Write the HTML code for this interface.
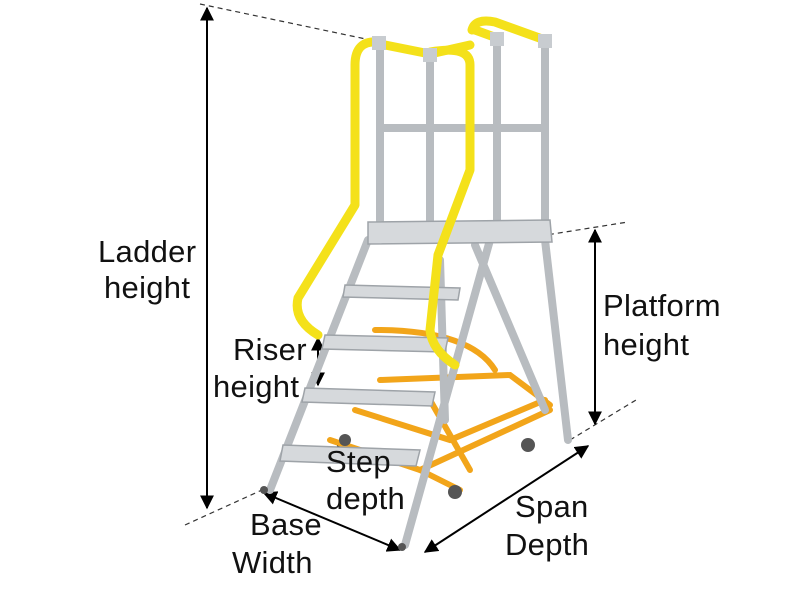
<!DOCTYPE html>
<html><head><meta charset="utf-8"><style>
html,body{margin:0;padding:0;background:#fff;}
svg{display:block;}
text{font-family:"Liberation Sans",sans-serif;font-size:31px;fill:#111;letter-spacing:0.3px;}
</style></head><body>
<svg width="800" height="592" viewBox="0 0 800 592" xmlns="http://www.w3.org/2000/svg">
<defs>
<marker id="a" viewBox="0 0 10 10" refX="9" refY="5" markerWidth="7" markerHeight="7" orient="auto-start-reverse"><path d="M0,0L10,5L0,10z" fill="#000"/></marker>
</defs>
<g stroke="#333" stroke-width="1.2" stroke-dasharray="5,4" fill="none">
<line x1="200" y1="4" x2="380" y2="42"/>
<line x1="185" y1="525" x2="262" y2="490"/>
<line x1="540" y1="236" x2="628" y2="222"/>
<line x1="570" y1="440" x2="636" y2="400"/>
</g>
<g stroke="#000" stroke-width="2" fill="none">
<line x1="207" y1="8" x2="207" y2="508" marker-start="url(#a)" marker-end="url(#a)"/>
<line x1="595" y1="230" x2="595" y2="424" marker-start="url(#a)" marker-end="url(#a)"/>
<line x1="318" y1="338" x2="318" y2="385" marker-start="url(#a)" marker-end="url(#a)"/>
<line x1="264" y1="493" x2="400" y2="550" marker-start="url(#a)" marker-end="url(#a)"/>
<line x1="425" y1="552" x2="588" y2="446" marker-start="url(#a)" marker-end="url(#a)"/>
<line x1="328" y1="452" x2="350" y2="446" marker-end="url(#a)"/>
</g>
<g stroke="#f2a51a" stroke-width="6" fill="none" stroke-linecap="round">
<path d="M375 330 Q470 330 495 370"/>
<path d="M330 440 L420 470 L550 410"/>
<path d="M355 410 L450 440 L545 400"/>
<path d="M380 380 L510 375 L550 405"/>
<path d="M420 470 L460 490"/>
<path d="M430 400 L470 470"/>
</g>
<g stroke="#b8bcc0" stroke-width="8" fill="none" stroke-linecap="round">
<line x1="380" y1="50" x2="380" y2="225"/>
<line x1="430" y1="60" x2="430" y2="225"/>
<line x1="497" y1="45" x2="497" y2="225"/>
<line x1="545" y1="45" x2="545" y2="225"/>
<line x1="380" y1="128" x2="545" y2="128"/>
<line x1="270" y1="490" x2="368" y2="240"/>
<line x1="405" y1="545" x2="490" y2="240"/>
<line x1="545" y1="240" x2="568" y2="440"/>
<line x1="475" y1="245" x2="545" y2="410"/>
<line x1="440" y1="260" x2="445" y2="420"/>
</g>
<g fill="#d6d9dc" stroke="#9ea3a8" stroke-width="1.5">
<path d="M368 222 L550 220 L552 242 L368 244z"/>
<path d="M345 285 L460 288 L458 300 L343 297z"/>
<path d="M325 335 L448 338 L445 352 L322 349z"/>
<path d="M305 388 L435 392 L432 406 L302 402z"/>
<path d="M283 445 L420 450 L416 466 L280 461z"/>
</g>
<g fill="#555"><circle cx="345" cy="440" r="6"/><circle cx="455" cy="492" r="7"/><circle cx="528" cy="445" r="7"/><circle cx="402" cy="547" r="4"/><circle cx="264" cy="490" r="4"/></g>
<g stroke="#f4e11a" stroke-width="9" fill="none" stroke-linecap="round" stroke-linejoin="round">
<path d="M378 42 Q355 40 355 65 L355 205 L298 298 Q293 320 318 335"/>
<path d="M430 52 Q470 45 470 65 L470 170 L438 255 L430 330 Q432 350 455 365"/>
<path d="M380 44 L430 54 L470 45"/>
<path d="M472 30 Q475 18 495 22 L545 40"/>
<path d="M475 30 L497 38"/>
</g>
<g fill="#c8ccd0"><rect x="372" y="36" width="14" height="14"/><rect x="423" y="48" width="14" height="14"/><rect x="490" y="32" width="14" height="14"/><rect x="538" y="34" width="14" height="14"/></g>
<text x="98" y="262">Ladder</text>
<text x="104" y="298">height</text>
<text x="603" y="316">Platform</text>
<text x="603" y="355">height</text>
<text x="233" y="360">Riser</text>
<text x="213" y="397">height</text>
<text x="326" y="472">Step</text>
<text x="326" y="509">depth</text>
<text x="250" y="535">Base</text>
<text x="232" y="573">Width</text>
<text x="515" y="517">Span</text>
<text x="505" y="555">Depth</text>
</svg>
</body></html>
